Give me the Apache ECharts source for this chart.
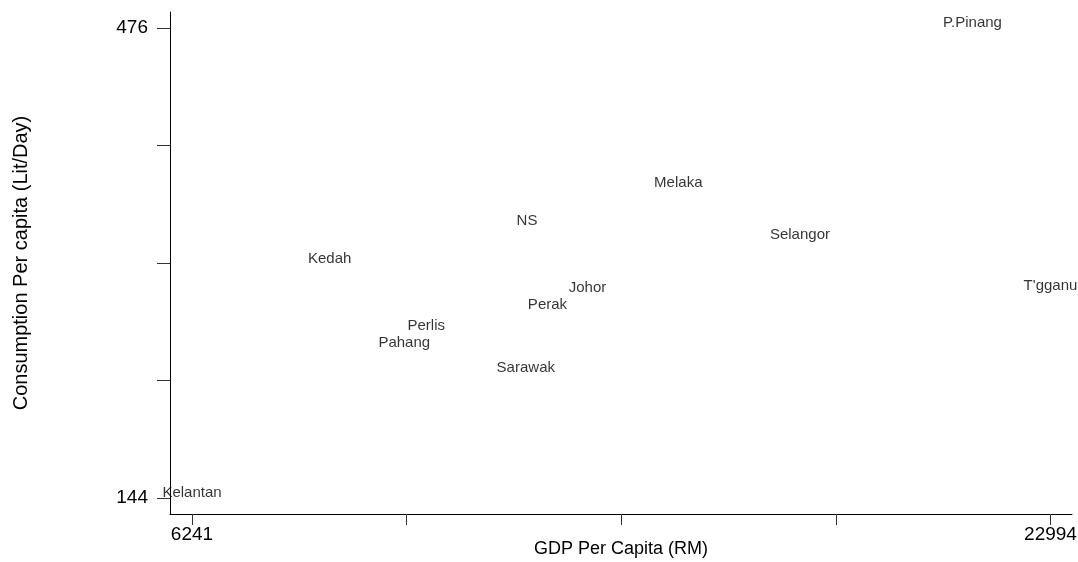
<!DOCTYPE html>
<html>
<head>
<meta charset="utf-8">
<script src="https://cdn.jsdelivr.net/npm/echarts@6/dist/echarts.min.js"></script>
<style>
html,body{margin:0;padding:0;background:#fff;overflow:hidden;}
#chart{width:1078px;height:562px;}
</style>
</head>
<body>
<div id="chart"></div>
<script>
const states = ['Kelantan','P.Pinang',"T'gganu",'Selangor','Melaka','NS','Kedah','Johor','Perak','Perlis','Pahang','Sarawak'];
const gdpPerCapita = [6241, 21472, 22994, 18105, 15731, 12778, 8928, 13959, 13178, 10813, 10384, 12755];
const consumptionPerCapita = [144, 476, 290.4, 326.2, 362.8, 336.1, 309.1, 288.6, 276.8, 262, 250.2, 232.1];
const xTicks = [6241, 10429.25, 14617.5, 18805.75, 22994];
const xTickLabels = [6241, 22994];
const yTicks = [144, 227, 310, 393, 476];
const yTickLabels = [144, 476];

const FONT = '"Liberation Sans", Arial, sans-serif';
const chart = echarts.init(document.getElementById('chart'));
const data = states.map((s, i) => ({name: s, value: [gdpPerCapita[i], consumptionPerCapita[i]]}));

chart.setOption({
  backgroundColor: '#fff',
  animation: false,
  grid: {left: 170, right: 6, top: 12, bottom: 48, containLabel: false, outerBoundsMode: 'none'},
  xAxis: {
    type: 'value',
    min: 5812, max: 23414,
    name: 'GDP Per Capita (RM)',
    nameLocation: 'middle',
    nameGap: 26,
    nameMoveOverlap: false,
    nameTextStyle: {fontFamily: FONT, fontSize: 18, color: '#000'},
    axisLine: {show: true, lineStyle: {color: '#000', width: 1}},
    axisTick: {show: true, length: 11, customValues: xTicks, lineStyle: {color: '#333'}},
    axisLabel: {show: true, customValues: xTickLabels, formatter: v => String(v), margin: 11, fontFamily: FONT, fontSize: 19, color: '#000', hideOverlap: false},
    splitLine: {show: false}
  },
  yAxis: {
    type: 'value',
    min: 132.7, max: 487.3,
    name: 'Consumption Per capita (Lit/Day)',
    nameLocation: 'middle',
    nameGap: 139,
    nameMoveOverlap: false,
    nameTextStyle: {fontFamily: FONT, fontSize: 20, color: '#000'},
    axisLine: {show: true, lineStyle: {color: '#000', width: 1}},
    axisTick: {show: true, length: 13, customValues: yTicks, lineStyle: {color: '#333'}},
    axisLabel: {show: true, customValues: yTickLabels, formatter: v => String(v), margin: 22, fontFamily: FONT, fontSize: 19, color: '#000'},
    splitLine: {show: false}
  },
  series: [{
    type: 'scatter',
    data: data,
    symbolSize: 1,
    itemStyle: {color: 'rgba(0,0,0,0)'},
    label: {
      show: true,
      position: 'top',
      distance: 0,
      offset: [0, 3],
      formatter: p => p.name,
      fontFamily: FONT,
      fontSize: 15,
      color: '#000'
    },
    emphasis: {disabled: true}
  }]
});
</script>
</body>
</html>
